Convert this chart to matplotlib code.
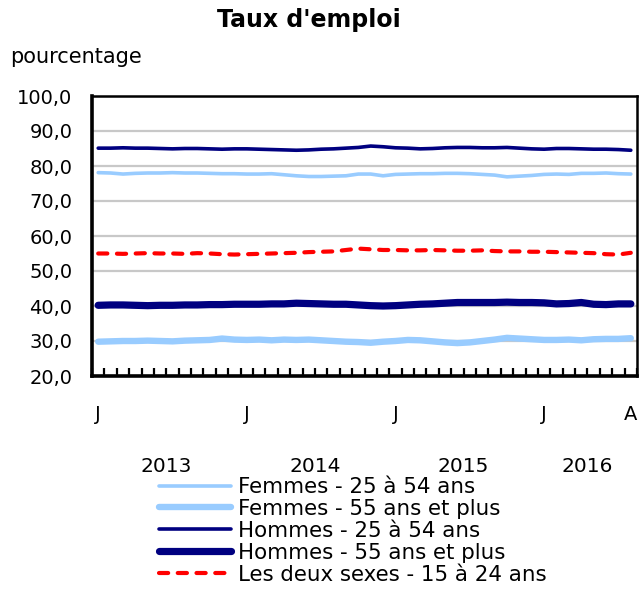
import numpy as np
import matplotlib
matplotlib.use('Agg')
import matplotlib.pyplot as plt
import matplotlib.transforms as mtransforms

# ---------- data: monthly, Jan 2013 to Aug 2016 ----------
years = ['2013', '2014', '2015', '2016']
months_per_year = [12, 12, 12, 8]
month_letters = ['J', 'F', 'M', 'A', 'M', 'J', 'J', 'A', 'S', 'O', 'N', 'D']

femmes_25_54 = [78.1, 78.0, 77.7, 77.9, 78.0, 78.0,
                78.1, 78.0, 78.0, 77.9, 77.8, 77.8,
                77.7, 77.7, 77.8, 77.5, 77.2, 77.0,
                77.0, 77.1, 77.2, 77.7, 77.7, 77.2,
                77.6, 77.7, 77.8, 77.8, 77.9, 77.9,
                77.8, 77.6, 77.4, 76.9, 77.1, 77.3,
                77.6, 77.7, 77.6, 77.9, 77.9, 78.0,
                77.8, 77.7]
femmes_55_plus = [29.8, 29.9, 30.0, 30.0, 30.1, 30.0,
                  29.9, 30.1, 30.2, 30.3, 30.7, 30.4,
                  30.3, 30.4, 30.2, 30.4, 30.3, 30.4,
                  30.2, 30.0, 29.8, 29.7, 29.5, 29.8,
                  30.0, 30.3, 30.2, 29.9, 29.6, 29.4,
                  29.6, 30.0, 30.4, 30.9, 30.7, 30.5,
                  30.3, 30.3, 30.4, 30.2, 30.5, 30.6,
                  30.6, 30.8]
hommes_25_54 = [85.1, 85.1, 85.2, 85.1, 85.1, 85.0,
                84.9, 85.0, 85.0, 84.9, 84.8, 84.9,
                84.9, 84.8, 84.7, 84.6, 84.5, 84.6,
                84.8, 84.9, 85.1, 85.3, 85.7, 85.5,
                85.2, 85.1, 84.9, 85.0, 85.2, 85.3,
                85.3, 85.2, 85.2, 85.3, 85.1, 84.9,
                84.8, 85.0, 85.0, 84.9, 84.8, 84.8,
                84.7, 84.5]
hommes_55_plus = [40.2, 40.3, 40.3, 40.2, 40.1, 40.2,
                  40.2, 40.3, 40.3, 40.4, 40.4, 40.5,
                  40.5, 40.5, 40.6, 40.6, 40.8, 40.7,
                  40.6, 40.5, 40.5, 40.3, 40.1, 40.0,
                  40.1, 40.3, 40.5, 40.6, 40.8, 41.0,
                  41.0, 41.0, 41.0, 41.1, 41.0, 41.0,
                  40.9, 40.6, 40.7, 41.0, 40.5, 40.4,
                  40.6, 40.6]
jeunes_15_24 = [55.0, 55.0, 54.9, 55.0, 55.1, 55.0,
                55.0, 54.9, 55.1, 55.0, 54.8, 54.7,
                54.8, 54.9, 55.0, 55.1, 55.2, 55.4,
                55.5, 55.6, 56.0, 56.4, 56.2, 56.0,
                56.0, 55.9, 55.9, 56.0, 55.9, 55.8,
                55.8, 55.9, 55.7, 55.6, 55.6, 55.5,
                55.5, 55.4, 55.3, 55.2, 55.1, 54.8,
                54.7, 55.2]

yticks = [20, 30, 40, 50, 60, 70, 80, 90, 100]

n = len(femmes_25_54)
x = np.arange(n)

plt.rcParams['font.family'] = ['DejaVu Sans']

fig = plt.figure(figsize=(6.41, 5.91), dpi=100)
ax = fig.add_axes([92/641, 1-376/591, 545/641, 280/591])

light = '#99CCFF'
navy = '#000080'
red = '#FF0000'

l1, = ax.plot(x, femmes_25_54, color=light, lw=2.6, solid_capstyle='round', label='Femmes - 25 à 54 ans')
l2, = ax.plot(x, femmes_55_plus, color=light, lw=4.6, solid_capstyle='round', label='Femmes - 55 ans et plus')
l3, = ax.plot(x, hommes_25_54, color=navy, lw=2.6, solid_capstyle='round', label='Hommes - 25 à 54 ans')
l4, = ax.plot(x, hommes_55_plus, color=navy, lw=5.2, solid_capstyle='round', label='Hommes - 55 ans et plus')
l5, = ax.plot(x, jeunes_15_24, color=red, lw=3.0, dashes=(2.2, 2.3), dash_capstyle='round',
              label='Les deux sexes - 15 à 24 ans')

ax.set_xlim(-0.5, n - 0.5)
ax.set_ylim(20, 100)
ax.set_yticks(yticks)
ax.set_yticklabels([('%.1f' % v).replace('.', ',') for v in yticks], fontsize=14)
ax.tick_params(axis='y', length=0, pad=14)
ax.grid(axis='y', color='#C8C8C8', lw=1.6)
ax.set_axisbelow(True)

# month letters: first month of each year and last month
label_pos = []
label_txt = []
start = 0
for y, m in zip(years, months_per_year):
    label_pos.append(start)
    label_txt.append('J')
    start += m
label_pos.append(n - 1)
label_txt.append(month_letters[(n - 1) % 12])
ax.set_xticks(label_pos)
ax.set_xticklabels(label_txt, fontsize=14)
ax.tick_params(axis='x', which='major', length=0, pad=21)
ax.set_xticks(np.arange(-0.5, n, 1.0), minor=True)
ax.tick_params(axis='x', which='minor', direction='in', length=6, width=1.6, color='black')

trans = mtransforms.blended_transform_factory(ax.transData, ax.transAxes)
start = 0
for y, m in zip(years, months_per_year):
    ax.text(start + (m - 1) / 2, -0.325, y, transform=trans, ha='center', va='center', fontsize=14.5)
    start += m

for side in ['left', 'bottom']:
    ax.spines[side].set_linewidth(2.6)
for side in ['top', 'right']:
    ax.spines[side].set_linewidth(1.8)
for s in ax.spines.values():
    s.set_color('black')

fig.text(309/641, 1-20/591, "Taux d'emploi", ha='center', va='center', fontsize=17, fontweight='bold')
fig.text(10/641, 1-57/591, 'pourcentage', ha='left', va='center', fontsize=15)

leg = fig.legend(handles=[l1, l2, l3, l4, l5], loc='upper left',
                 bbox_to_anchor=(159/641, 1-477/591), frameon=False, fontsize=15.4,
                 handlelength=3.35, handletextpad=0.33, labelspacing=0.09, borderpad=0,
                 borderaxespad=0)

fig.savefig('out.png', dpi=100)
